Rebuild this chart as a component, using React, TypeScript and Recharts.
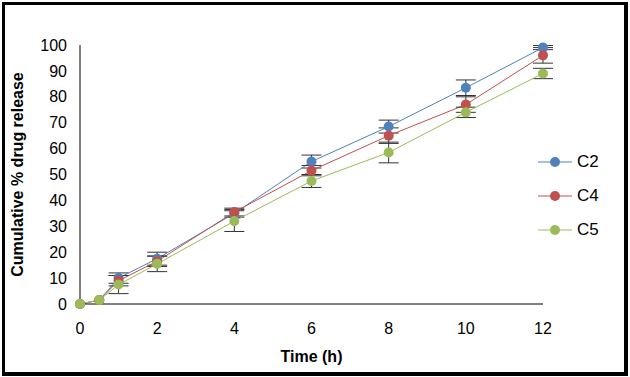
import React from "react";
import { LineChart, Line, XAxis, YAxis, ErrorBar } from "recharts";

const times = [0, 0.5, 1, 2, 4, 6, 8, 10, 12];
const c2 = [0, 1.5, 10, 17.5, 35, 55, 68.5, 83.5, 99];
const c2Err = [0, 0, 2, 2.5, 1.5, 2.5, 2.5, 3, 0.8];
const c4 = [0, 1.5, 9, 16.5, 35.5, 51.5, 65, 77, 96];
const c4Err = [0, 0, 2, 2, 1.5, 2, 3, 3, 3];
const c5 = [0, 1.5, 7.5, 15.5, 32, 47.5, 58.5, 74, 89];
const c5Err = [0, 0, 3.5, 3, 4, 2.5, 4, 2, 2];
const xTicks = [0, 2, 4, 6, 8, 10, 12];
const yTicks = [0, 10, 20, 30, 40, 50, 60, 70, 80, 90, 100];

const series = [
  { key: "C2", color: "#4F81BD" },
  { key: "C4", color: "#C0504D" },
  { key: "C5", color: "#9BBB59" },
];

const data = times.map((t, i) => ({
  t,
  C2: c2[i],
  C2e: c2Err[i],
  C4: c4[i],
  C4e: c4Err[i],
  C5: c5[i],
  C5e: c5Err[i],
}));

const font = "Arial, 'Liberation Sans', sans-serif";

const LegendBox = () => (
  <div
    style={{
      position: "absolute",
      left: 538,
      top: 145,
      fontFamily: font,
      fontSize: 17,
      color: "#000",
    }}
  >
    {series.map((s) => (
      <div key={s.key} style={{ display: "flex", alignItems: "center", height: 34 }}>
        <svg width={34} height={12} style={{ marginRight: 5 }}>
          <line x1={0} y1={6} x2={34} y2={6} stroke={s.color} strokeWidth={1} />
          <circle cx={17} cy={6} r={5} fill={s.color} />
        </svg>
        <span>{s.key}</span>
      </div>
    ))}
  </div>
);

export default function App() {
  return (
    <div style={{ position: "absolute", left: 0, top: 0, width: 630, height: 377, background: "#fff" }}>
      <div
        style={{
          position: "absolute",
          left: 2,
          top: 2,
          width: 626,
          height: 374,
          boxSizing: "border-box",
          borderTop: "3px solid #000",
          borderLeft: "3px solid #000",
          borderRight: "4px solid #000",
          borderBottom: "4px solid #000",
        }}
      />
      <div style={{ position: "absolute", left: 0, top: 0 }}>
        <LineChart
          width={630}
          height={377}
          data={data}
          margin={{ top: 45, right: 87, bottom: 43, left: 0 }}
          style={{ fontFamily: font }}
        >
          <XAxis
            dataKey="t"
            type="number"
            domain={[0, 12]}
            ticks={xTicks}
            height={30}
            tickSize={0}
            tickMargin={19}
            axisLine={{ stroke: "#000", strokeWidth: 1 }}
            tick={{ fill: "#000", fontSize: 16 }}
            label={(props: any) => {
              const vb = props.viewBox;
              return (
                <text
                  x={vb.x + vb.width / 2}
                  y={362}
                  textAnchor="middle"
                  fontWeight="bold"
                  fontSize={16}
                  fill="#000"
                >
                  Time (h)
                </text>
              );
            }}
          />
          <YAxis
            type="number"
            domain={[0, 100]}
            ticks={yTicks}
            width={80}
            tickSize={0}
            tickMargin={13}
            interval={0}
            axisLine={{ stroke: "#000", strokeWidth: 1 }}
            tick={{ fill: "#000", fontSize: 16 }}
            label={(props: any) => {
              const vb = props.viewBox;
              const cy = vb.y + vb.height / 2;
              return (
                <text
                  x={23}
                  y={cy}
                  textAnchor="middle"
                  fontWeight="bold"
                  fontSize={16}
                  fill="#000"
                  transform={`rotate(-90 23 ${cy})`}
                >
                  Cumulative % drug release
                </text>
              );
            }}
          />
          {series.map((s) => (
            <Line
              key={s.key}
              dataKey={s.key}
              stroke={s.color}
              strokeWidth={1}
              dot={{ r: 5, fill: s.color, stroke: s.color, strokeWidth: 0 }}
              activeDot={false}
              isAnimationActive={false}
            >
              <ErrorBar dataKey={`${s.key}e`} direction="y" width={10} stroke="#333" strokeWidth={1} />
            </Line>
          ))}
        </LineChart>
      </div>
      <LegendBox />
    </div>
  );
}
